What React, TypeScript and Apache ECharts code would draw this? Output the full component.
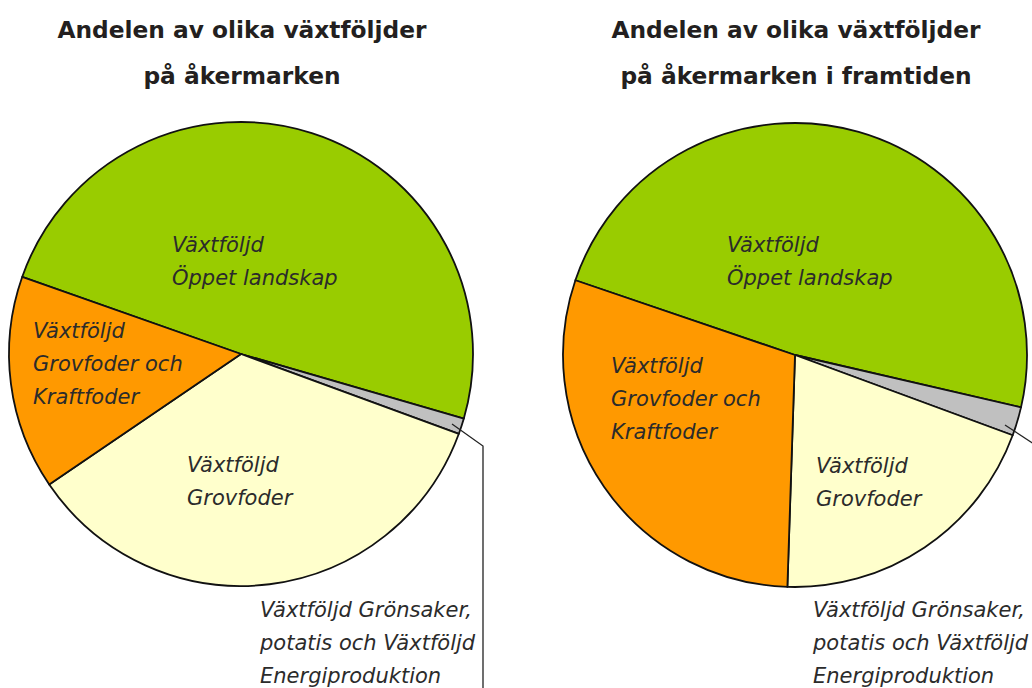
import React, { useEffect, useRef } from "react";
import * as echarts from "echarts";

const categories = [
  "Växtföljd Öppet landskap",
  "Växtföljd Grönsaker, potatis och Växtföljd Energiproduktion",
  "Växtföljd Grovfoder",
  "Växtföljd Grovfoder och Kraftfoder",
];
const colors = ["#99cc00", "#c0c0c0", "#ffffcc", "#ff9900"];
const valuesNow = [49.1, 1.1, 34.9, 14.9];
const valuesFuture = [48.4, 2.0, 19.9, 29.7];
const titleNow = "Andelen av olika växtföljder\npå åkermarken";
const titleFuture = "Andelen av olika växtföljder\npå åkermarken i framtiden";

const labelFont = '"DejaVu Sans", "Liberation Sans", Arial, sans-serif';

export default function App() {
  const ref = useRef<HTMLDivElement>(null);
  useEffect(() => {
    if (!ref.current) return;
    const chart = echarts.init(ref.current, null, { renderer: "svg" });
    const mkData = (vals: number[]) =>
      vals.map((v, i) => ({ name: categories[i], value: v, itemStyle: { color: colors[i] } }));
    const pieBase = {
      type: "pie",
      radius: 232,
      clockwise: true,
      z: 1,
      label: { show: false },
      labelLine: { show: false },
      emphasis: { disabled: true },
      itemStyle: { borderColor: "#111", borderWidth: 1.8 },
      silent: true,
    };
    const txt = (x: number, y: number, text: string) => ({
      type: "text",
      x,
      y,
      z: 100,
      style: {
        text,
        font: `oblique 21px ${labelFont}`,
        fill: "#2b2b2b",
        lineHeight: 33,
        verticalAlign: "middle",
        align: "left",
      },
    });
    const title = (cx: number, text: string) => ({
      type: "text",
      x: cx,
      y: 52,
      z: 100,
      style: {
        text,
        font: `bold 23.3px ${labelFont}`,
        fill: "#231f20",
        lineHeight: 46,
        align: "center",
        verticalAlign: "middle",
      },
    });
    chart.setOption({
      animation: false,
      backgroundColor: "#ffffff",
      series: [
        { ...pieBase, center: [241, 354], startAngle: 160.6, data: mkData(valuesNow) },
        { ...pieBase, center: [795, 355], startAngle: 161.2, data: mkData(valuesFuture) },
      ],
      graphic: [
        title(242, titleNow),
        title(796, titleFuture),
        txt(172, 261, "Växtföljd\nÖppet landskap"),
        txt(33, 364, "Växtföljd\nGrovfoder och\nKraftfoder"),
        txt(187, 481.5, "Växtföljd\nGrovfoder"),
        txt(260, 643, "Växtföljd Grönsaker,\npotatis och Växtföljd\nEnergiproduktion"),
        txt(727, 261, "Växtföljd\nÖppet landskap"),
        txt(611, 399, "Växtföljd\nGrovfoder och\nKraftfoder"),
        txt(816, 482, "Växtföljd\nGrovfoder"),
        txt(813, 643, "Växtföljd Grönsaker,\npotatis och Växtföljd\nEnergiproduktion"),
        {
          type: "polyline",
          z: 100,
          shape: { points: [[452, 424], [483, 446], [483, 688]] },
          style: { stroke: "#222", lineWidth: 1.3, fill: null },
        },
        {
          type: "polyline",
          z: 100,
          shape: { points: [[1005, 425], [1034, 444]] },
          style: { stroke: "#222", lineWidth: 1.3, fill: null },
        },
      ],
    });
    return () => chart.dispose();
  }, []);
  return (
    <div
      ref={ref}
      style={{ position: "fixed", left: 0, top: 0, width: 1032, height: 688, background: "#fff" }}
    />
  );
}
